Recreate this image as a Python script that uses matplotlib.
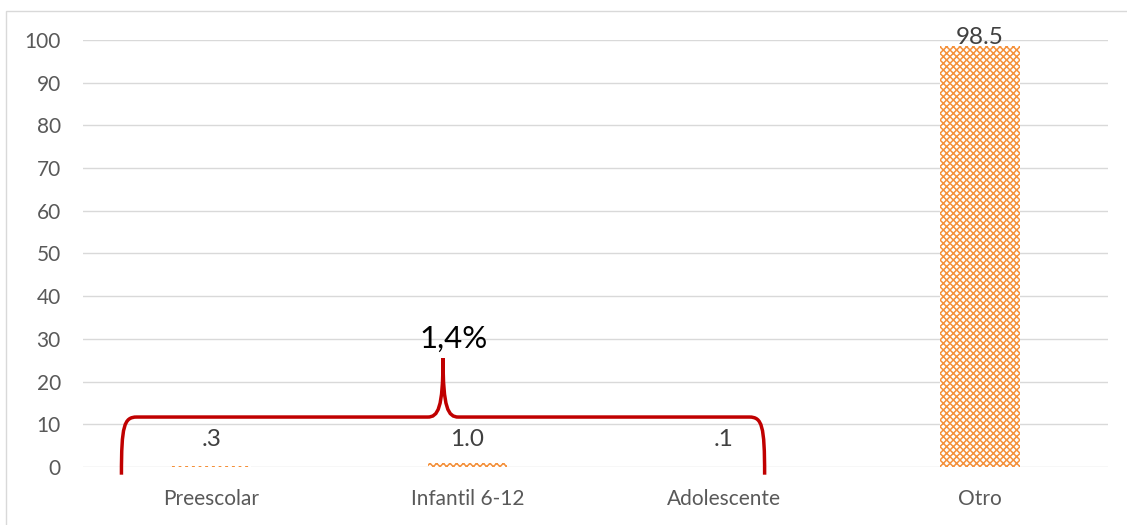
import matplotlib
matplotlib.use("Agg")
import matplotlib.pyplot as plt
from matplotlib.patches import Rectangle
from matplotlib.path import Path
from matplotlib.patches import PathPatch

categories = ["Preescolar", "Infantil 6-12", "Adolescente", "Otro"]
values = [0.3, 1.0, 0.1, 98.5]
value_labels = [".3", "1.0", ".1", "98.5"]
yticks = [0, 10, 20, 30, 40, 50, 60, 70, 80, 90, 100]
brace_text = "1,4%"

plt.rcParams['font.family'] = ['Lato', 'DejaVu Sans']
plt.rcParams['hatch.linewidth'] = 1.1

fig = plt.figure(figsize=(11.27, 5.25), dpi=100)
fig.patches.append(Rectangle((6/1127, -0.1), 1.2, 1 - 11/525 + 0.1, transform=fig.transFigure,
                             fill=False, edgecolor="#D9D9D9", linewidth=1.0))
ax = fig.add_axes([83/1127, 1 - 467/525, (1108-83)/1127, (467-40)/525])

x = list(range(len(categories)))
orange = "#F4903A"
ax.bar(x, values, width=0.31, facecolor="white", edgecolor=orange, linewidth=0,
       hatch="xxxxx", zorder=3)

for xi, v, lab in zip(x, values, value_labels):
    base = max(v, 4.3)
    ax.annotate(lab, (xi, base), xytext=(0, 2), textcoords="offset points",
                ha="center", va="baseline", fontsize=17.5, color="#404040", zorder=6)

ax.set_xlim(-0.5, len(categories) - 0.5)
ax.set_ylim(0, 100)
ax.set_yticks(yticks)
ax.set_yticklabels([str(t) for t in yticks])
ax.set_xticks(x)
ax.set_xticklabels(categories)
ax.tick_params(axis="y", length=0, pad=16, labelsize=15, labelcolor="#595959")
ax.tick_params(axis="x", length=0, pad=16, labelsize=15, labelcolor="#595959")
ax.grid(axis="y", color="#D9D9D9", linewidth=1.0, zorder=0)
ax.set_axisbelow(True)
for s in ax.spines.values():
    s.set_visible(False)

# brace
x0, x1 = -0.35, 2.16
xm = (x0 + x1) / 2
yb, yh, yp = -1.8, 11.7, 25.5
dx = 0.06
verts = [
    (x0, yb), (x0, yh - 2), (x0 + 0.01, yh), (x0 + dx, yh),
    (xm - dx, yh), (xm - 0.02, yh), (xm, yh + 2), (xm, yp),
    (xm, yh + 2), (xm + 0.02, yh), (xm + dx, yh),
    (x1 - dx, yh), (x1 - 0.01, yh), (x1, yh - 2), (x1, yb),
]
codes = [Path.MOVETO, Path.CURVE4, Path.CURVE4, Path.CURVE4,
         Path.LINETO, Path.CURVE4, Path.CURVE4, Path.CURVE4,
         Path.CURVE4, Path.CURVE4, Path.CURVE4,
         Path.LINETO, Path.CURVE4, Path.CURVE4, Path.CURVE4]
ax.add_patch(PathPatch(Path(verts, codes), fill=False, edgecolor="#C00000",
                       linewidth=2.5, clip_on=False, zorder=5))
ax.text(xm + 0.04, 28.0, brace_text, ha="center", va="baseline", fontsize=22.5, color="black")

fig.savefig("out.png", dpi=100)
